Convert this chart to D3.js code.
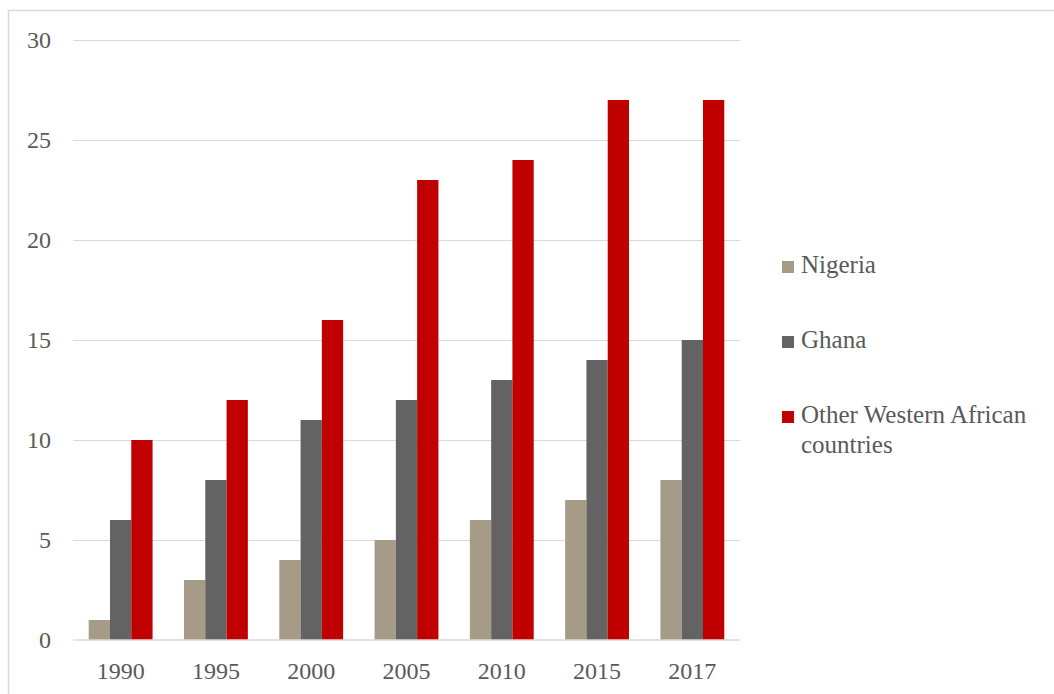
<!DOCTYPE html>
<html><head><meta charset="utf-8">
<script src="https://cdn.jsdelivr.net/npm/d3@7"></script>
<style>body{margin:0;background:#fff;} svg{display:block;}</style>
</head><body>
<svg id="chart" width="1054" height="694"></svg>
<script>
const categories = ["1990","1995","2000","2005","2010","2015","2017"];
const seriesNames = ["Nigeria","Ghana","Other Western African countries"];
const nigeria = [1,3,4,5,6,7,8];
const ghana = [6,8,11,12,13,14,15];
const otherWA = [10,12,16,23,24,27,27];
const yTicks = [0,5,10,15,20,25,30];
const colors = ["#A59B86","#636363","#C00000"];

(function(){
const values = [nigeria, ghana, otherWA];
const svg = d3.select("#chart");
const font = "'Liberation Serif', 'Times New Roman', serif";
const textColor = "#595959";

svg.append("rect").attr("x",8.5).attr("y",10.5).attr("width",1100).attr("height",720)
  .attr("fill","#fff").attr("stroke","#D9D9D9").attr("stroke-width",1.5);

const pLeft = 73, pRight = 740, pTop = 40, pBottom = 640;
const x = d3.scaleBand().domain(categories).range([pLeft,pRight]).paddingInner(0.33).paddingOuter(0.165);
const xs = d3.scaleBand().domain(d3.range(3)).range([0,x.bandwidth()]);
const y = d3.scaleLinear().domain([0,30]).range([pBottom,pTop]);

svg.append("g").selectAll("line").data(yTicks.filter(d=>d>0)).join("line")
  .attr("x1",pLeft).attr("x2",pRight)
  .attr("y1",d=>Math.round(y(d))+0.5).attr("y2",d=>Math.round(y(d))+0.5)
  .attr("stroke","#D9D9D9").attr("stroke-width",1);

const g = svg.append("g");
categories.forEach((c,i)=>{
  values.forEach((arr,s)=>{
    g.append("rect")
      .attr("x",x(c)+xs(s)).attr("width",xs.bandwidth())
      .attr("y",y(arr[i])).attr("height",y(0)-y(arr[i]))
      .attr("fill",colors[s]);
  });
});

svg.append("line").attr("x1",pLeft).attr("x2",pRight).attr("y1",pBottom).attr("y2",pBottom)
  .attr("stroke","#D9D9D9").attr("stroke-width",1.5);

svg.append("g").selectAll("text").data(yTicks).join("text")
  .attr("x",51).attr("y",d=>y(d)+8).
  attr("text-anchor","end").attr("font-family",font).attr("font-size",24)
  .attr("fill",textColor).text(d=>d);

svg.append("g").selectAll("text").data(categories).join("text")
  .attr("x",d=>x(d)+x.bandwidth()/2).attr("y",679)
  .attr("text-anchor","middle").attr("font-family",font).attr("font-size",24)
  .attr("fill",textColor).text(d=>d);

const legendBase = [273, 348, 423];
const lg = svg.append("g");
seriesNames.forEach((n,i)=>{
  lg.append("rect").attr("x",782).attr("y",legendBase[i]-12).attr("width",12).attr("height",12).attr("fill",colors[i]);
  const t = lg.append("text").attr("x",801).attr("y",legendBase[i])
    .attr("font-family",font).attr("font-size",25).attr("fill",textColor);
  if (i===2) {
    t.append("tspan").attr("x",801).text("Other Western African");
    t.append("tspan").attr("x",801).attr("dy",30).text("countries");
  } else t.text(n);
});
})();
</script>
</body></html>
